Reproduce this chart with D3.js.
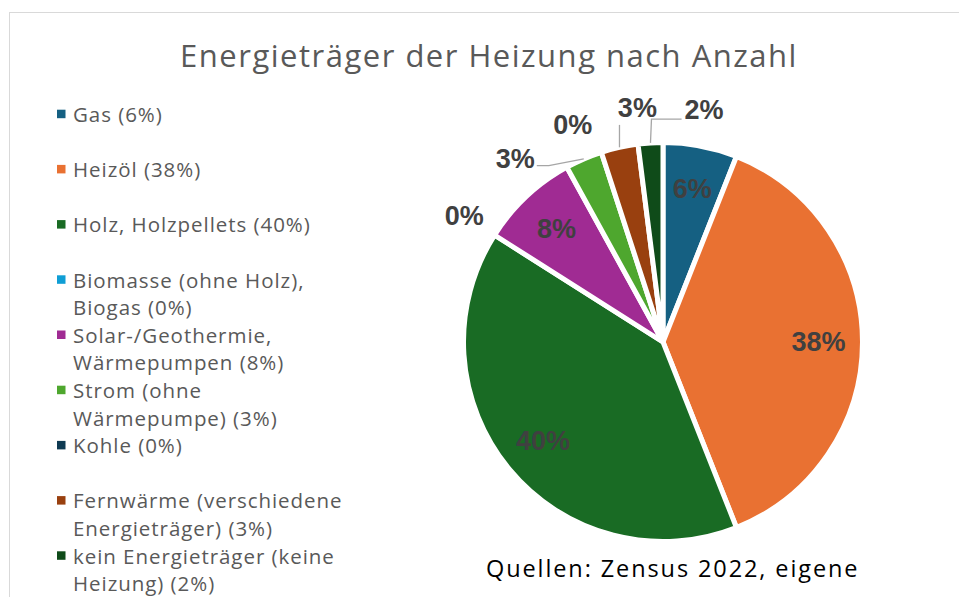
<!DOCTYPE html>
<html>
<head>
<meta charset="utf-8">
<script src="https://cdn.jsdelivr.net/npm/d3@7/dist/d3.min.js"></script>
<style>
  html, body { margin: 0; padding: 0; background: #fff; }
  svg { display: block; }
</style>
</head>
<body>
<svg id="chart" width="959" height="597"></svg>
<script>
// Energy sources of heating systems, share by count (percent)
const categories = [
  "Gas",
  "Heizöl",
  "Holz, Holzpellets",
  "Biomasse (ohne Holz),\nBiogas",
  "Solar-/Geothermie,\nWärmepumpen",
  "Strom (ohne\nWärmepumpe)",
  "Kohle",
  "Fernwärme (verschiedene\nEnergieträger)",
  "kein Energieträger (keine\nHeizung)"
];
const values = [6, 38, 40, 0, 8, 3, 0, 3, 2];
const colors = ["#156082", "#E97132", "#196B24", "#0F9ED5", "#A02B93",
                "#4EA72E", "#0E3A52", "#99400F", "#0F4B19"];
const title = "Energieträger der Heizung nach Anzahl";
const footnote = "Quellen: Zensus 2022, eigene";

const data = categories.map((c, i) => ({ name: c, value: values[i], color: colors[i] }));
const pct = v => d3.format(".0f")(v) + "%";

const svg = d3.select("#chart");
const W = 959, H = 597;
const textFont = "'Open Sans', sans-serif";

// chart frame
svg.append("rect")
  .attr("x", 9.5).attr("y", 12.5)
  .attr("width", W + 20).attr("height", H + 20)
  .attr("fill", "#fff").attr("stroke", "#d9d9d9").attr("stroke-width", 1);

// title
svg.append("text")
  .attr("x", 489).attr("y", 55)
  .attr("text-anchor", "middle").attr("dominant-baseline", "central")
  .attr("font-family", textFont)
  .attr("font-size", 31)
  .attr("letter-spacing", 1.5)
  .attr("fill", "#595959")
  .text(title);

// legend
const legend = svg.append("g");
const itemY = d3.scaleLinear().domain([0, 1]).range([114, 169.2]);
const lineStep = 27.6;
data.forEach((d, i) => {
  const y0 = itemY(i);
  const g = legend.append("g");
  g.append("rect")
    .attr("x", 57).attr("y", y0 - 4.3)
    .attr("width", 8.5).attr("height", 8.5)
    .attr("fill", d.color);
  const lines = (d.name + " (" + pct(d.value) + ")").split("\n");
  lines.forEach((ln, k) => {
    g.append("text")
      .attr("x", 73).attr("y", y0 + k * lineStep)
      .attr("dominant-baseline", "central")
      .attr("font-family", textFont)
      .attr("font-size", 20.5)
      .attr("letter-spacing", 0.95)
      .attr("fill", "#595959")
      .text(ln);
  });
});

// pie
const cx = 663, cy = 342, R = 199.5;
const pie = d3.pie().value(d => d.value).sort(null);
const arcs = pie(data);
const arc = d3.arc().innerRadius(0).outerRadius(R);

const pg = svg.append("g").attr("transform", `translate(${cx},${cy})`);
pg.selectAll("path.slice")
  .data(arcs.filter(a => a.data.value > 0))
  .join("path")
  .attr("class", "slice")
  .attr("d", arc)
  .attr("fill", a => a.data.color)
  .attr("stroke", "#fff")
  .attr("stroke-width", 5)
  .attr("stroke-linejoin", "miter");

// data labels
const labelFont = "'Liberation Sans', Arial, sans-serif";
const labelSize = 27;
const labelColor = "#404040";
const mid = a => (a.startAngle + a.endAngle) / 2;
const polar = (ang, r) => [r * Math.sin(ang), -r * Math.cos(ang)];

// large slices: label inside
const inside = arcs.filter(a => a.data.value >= 5);
inside.forEach(a => {
  const [x, y] = polar(mid(a), R * 0.78);
  pg.append("text")
    .attr("x", x).attr("y", y)
    .attr("text-anchor", "middle").attr("dominant-baseline", "central")
    .attr("font-family", labelFont).attr("font-weight", "bold")
    .attr("font-size", labelSize).attr("fill", labelColor)
    .text(pct(a.data.value));
});

// small slices: label outside, spread apart along the circle
const outside = arcs.filter(a => a.data.value < 5)
  .map(a => ({ a, ang: mid(a) }));
outside.sort((p, q) => p.ang - q.ang);
const minSep = 16.3 * Math.PI / 180;
for (let iter = 0; iter < 200; iter++) {
  let moved = false;
  for (let i = 1; i < outside.length; i++) {
    const gap = outside[i].ang - outside[i - 1].ang;
    if (gap < minSep - 1e-6) {
      const push = (minSep - gap) / 2;
      outside[i - 1].ang -= push;
      outside[i].ang += push;
      moved = true;
    }
  }
  if (!moved) break;
}
const labelR = R + 36;
outside.forEach(o => {
  const [lx, ly] = polar(o.ang, labelR);
  const t = pg.append("text")
    .attr("x", lx).attr("y", ly)
    .attr("text-anchor", "middle").attr("dominant-baseline", "central")
    .attr("font-family", labelFont).attr("font-weight", "bold")
    .attr("font-size", labelSize).attr("fill", labelColor)
    .text(pct(o.a.data.value));
  if (o.a.data.value <= 0) return;
  // leader line from the slice edge to the label
  const bb = t.node().getBBox();
  const [px, py] = polar(mid(o.a), R);
  let pts;
  if (px > bb.x && px < bb.x + bb.width) {
    pts = [[px, bb.y + bb.height + 2], [px, py]];
  } else if (px > bb.x + bb.width) {
    const ey = ly + 7;
    const sx = bb.x + bb.width + 2;
    pts = [[sx, ey], [sx + 12, ey], [px, py]];
  } else {
    const ey = ly + 9;
    const sx = bb.x - 3;
    pts = [[sx, ey], [px + 1, ey], [px, py]];
  }
  pg.append("path")
    .attr("d", d3.line()(pts))
    .attr("fill", "none")
    .attr("stroke", "#a6a6a6")
    .attr("stroke-width", 1.3);
});

// source note
svg.append("text")
  .attr("x", 486).attr("y", 577)
  .attr("font-family", textFont)
  .attr("font-size", 23.5)
  .attr("letter-spacing", 1.9)
  .attr("fill", "#000")
  .text(footnote);
</script>
</body>
</html>
